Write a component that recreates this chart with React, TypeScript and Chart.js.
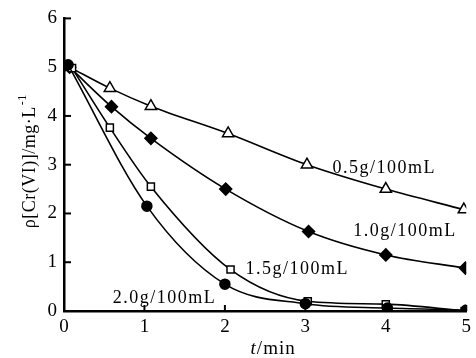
import React, { useEffect, useRef } from "react";
import { Chart, registerables } from "chart.js";
Chart.register(...registerables);

// t / min for each series
const tValues05 = [0.07, 0.57, 1.08, 2.04, 3.02, 4.0, 4.97];
const tValues10 = [0.07, 0.59, 1.08, 2.01, 3.04, 4.0, 4.99];
const tValues15 = [0.1, 0.57, 1.08, 2.07, 3.03, 4.0, 4.98];
const tValues20 = [0.05, 1.03, 2.0, 3.0, 4.02, 5.0];
// rho[Cr(VI)] / mg·L-1
const conc05 = [5.0, 4.57, 4.2, 3.64, 3.0, 2.5, 2.08];
const conc10 = [5.0, 4.19, 3.54, 2.5, 1.63, 1.15, 0.88];
const conc15 = [4.98, 3.76, 2.55, 0.85, 0.2, 0.14, 0.0];
const conc20 = [5.05, 2.15, 0.55, 0.15, 0.06, 0.02];

const seriesNames = ["0.5g/100mL", "1.0g/100mL", "1.5g/100mL", "2.0g/100mL"];
// label anchors (data units, centre of text)
const labelT = [3.98, 4.24, 2.9, 1.25];
const labelC = [2.92, 1.63, 0.86, 0.27];

const xTicks = [0, 1, 2, 3, 4, 5];
const yTicks = [0, 1, 2, 3, 4, 5, 6];

const FONT = "'Liberation Serif', 'Times New Roman', serif";

const toPts = (xs: number[], ys: number[]) => xs.map((x, i) => ({ x, y: ys[i] }));

export default function App() {
  const ref = useRef<HTMLCanvasElement | null>(null);
  useEffect(() => {
    document.body.style.margin = "0";
    const canvas = ref.current;
    if (!canvas) return;

    const decor = {
      id: "decor",
      afterDraw(chart: any) {
        const { ctx, chartArea, scales } = chart;
        const xs = scales.x;
        const ys = scales.y;
        ctx.save();
        ctx.strokeStyle = "#000";
        ctx.lineWidth = 2;
        // inward ticks
        xTicks.forEach((v) => {
          if (v === 0) return;
          const px = xs.getPixelForValue(v);
          ctx.beginPath();
          ctx.moveTo(px, chartArea.bottom);
          ctx.lineTo(px, chartArea.bottom - 6);
          ctx.stroke();
        });
        yTicks.forEach((v) => {
          if (v === 0) return;
          const py = ys.getPixelForValue(v);
          ctx.beginPath();
          ctx.moveTo(chartArea.left, py);
          ctx.lineTo(chartArea.left + 7, py);
          ctx.stroke();
        });
        // series labels
        ctx.fillStyle = "#000";
        ctx.font = `18px ${FONT}`;
        (ctx as any).letterSpacing = "1.5px";
        ctx.textAlign = "center";
        ctx.textBaseline = "middle";
        seriesNames.forEach((n, i) => {
          ctx.fillText(n, xs.getPixelForValue(labelT[i]), ys.getPixelForValue(labelC[i]));
        });
        // x title: italic t + /min
        (ctx as any).letterSpacing = "1px";
        ctx.textAlign = "left";
        ctx.textBaseline = "alphabetic";
        ctx.font = `italic 19px ${FONT}`;
        const tW = ctx.measureText("t").width;
        ctx.font = `19px ${FONT}`;
        const restW = ctx.measureText("/min").width;
        const cx = (chartArea.left + chartArea.right) / 2 + 8;
        let sx = cx - (tW + restW) / 2;
        const by = chart.height - 4;
        ctx.font = `italic 19px ${FONT}`;
        ctx.fillText("t", sx, by);
        ctx.font = `19px ${FONT}`;
        ctx.fillText("/min", sx + tW, by);
        // y title
        ctx.translate(30, (chartArea.top + chartArea.bottom) / 2 - 4);
        ctx.rotate(-Math.PI / 2);
        (ctx as any).letterSpacing = "0.5px";
        ctx.font = `18px ${FONT}`;
        const main = "ρ[Cr(VI)]/mg·L";
        const mw = ctx.measureText(main).width;
        ctx.font = `12px ${FONT}`;
        const sup = "-1";
        const sw = ctx.measureText(sup).width;
        const start = -(mw + sw + 2) / 2;
        ctx.font = `18px ${FONT}`;
        ctx.textBaseline = "middle";
        ctx.fillText(main, start, 0);
        ctx.font = `12px ${FONT}`;
        ctx.fillText(sup, start + mw + 1, -7);
        ctx.restore();
      },
    };

    const common = {
      borderColor: "#000",
      borderWidth: 1.6,
      pointBorderColor: "#000",
      pointBorderWidth: 1.5,
      cubicInterpolationMode: "monotone" as const,
      showLine: true,
    };

    const chart = new Chart(canvas, {
      type: "scatter",
      data: {
        datasets: [
          {
            ...common,
            label: seriesNames[3],
            data: toPts(tValues20, conc20),
            pointStyle: "circle",
            pointRadius: 5,
            pointBackgroundColor: "#000",
          },
          {
            ...common,
            label: seriesNames[2],
            data: toPts(tValues15, conc15),
            pointStyle: "rect",
            pointRadius: 5,
            pointBackgroundColor: "#fff",
          },
          {
            ...common,
            label: seriesNames[1],
            data: toPts(tValues10, conc10),
            pointStyle: "rectRot",
            pointRadius: 6,
            pointBackgroundColor: "#000",
          },
          {
            ...common,
            label: seriesNames[0],
            data: toPts(tValues05, conc05),
            pointStyle: "triangle",
            pointRadius: 6.5,
            pointBackgroundColor: "#fff",
          },
        ],
      },
      options: {
        animation: false,
        responsive: true,
        maintainAspectRatio: false,
        layout: { padding: { top: 16, right: 6, left: 0, bottom: 0 } },
        plugins: {
          legend: { display: false },
          tooltip: { enabled: false },
        },
        scales: {
          x: {
            type: "linear",
            min: 0,
            max: 5,
            afterFit: (s: any) => {
              s.height = 47;
            },
            afterBuildTicks: (s: any) => {
              s.ticks = xTicks.map((v) => ({ value: v }));
            },
            ticks: {
              color: "#000",
              font: { family: FONT, size: 19 },
              padding: 5,
              maxRotation: 0,
            },
            grid: { display: false, drawTicks: false },
            border: { display: true, color: "#000", width: 2.5 },
          },
          y: {
            type: "linear",
            min: 0,
            max: 6,
            afterFit: (s: any) => {
              s.width = 64;
            },
            afterBuildTicks: (s: any) => {
              s.ticks = yTicks.map((v) => ({ value: v }));
            },
            ticks: {
              color: "#000",
              font: { family: FONT, size: 19 },
              padding: 7,
            },
            grid: { display: false, drawTicks: false },
            border: { display: true, color: "#000", width: 2.5 },
          },
        },
      },
      plugins: [decor],
    });
    return () => chart.destroy();
  }, []);

  return (
    <div style={{ width: 476, height: 358, position: "relative", background: "#fff" }}>
      <canvas ref={ref} />
    </div>
  );
}
